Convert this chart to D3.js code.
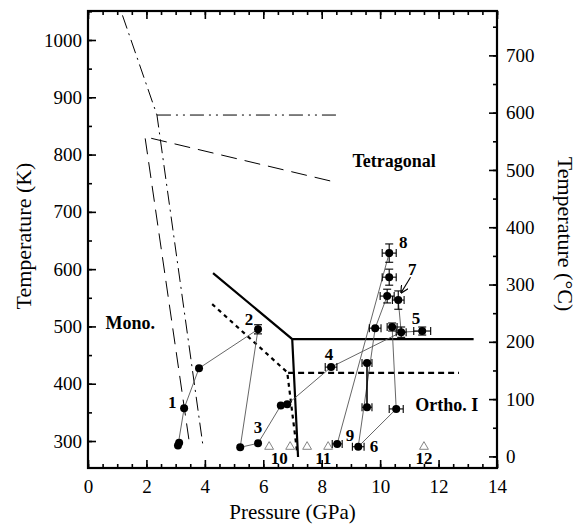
<!DOCTYPE html>
<html>
<head>
<meta charset="utf-8">
<script src="https://cdn.jsdelivr.net/npm/d3@7"></script>
<style>
body{margin:0;background:#fff;}
text{font-family:"Liberation Serif","Times New Roman",serif;}
</style>
</head>
<body>
<svg id="drawarea" width="588" height="524"></svg>
<script>
// measured points (P in GPa, T in K) with error bars
var pressure    = [3.08, 3.12, 3.29, 3.80, 5.82, 5.21, 5.82, 6.60, 6.82, 8.32, 9.55, 9.55, 8.53, 9.25, 10.55, 10.31, 10.31, 10.24, 10.62, 9.83, 10.41, 10.72, 11.44];
var temperature = [292, 297, 357, 427, 495, 289, 296, 362, 364, 429, 436, 359, 295, 290, 356, 628, 586, 553, 546, 497, 499, 490, 492];
var pErr        = [0, 0, 0, 0, 0, 0, 0, 0, 0, 0.2, 0.17, 0.17, 0.17, 0.2, 0.24, 0.24, 0.24, 0.24, 0.2, 0.2, 0.17, 0.17, 0.29];
var tErr        = [0, 0, 0, 0, 8, 0, 0, 0, 0, 0, 0, 0, 0, 0, 0, 16, 14, 12, 16, 0, 7, 9, 7];

// run paths, as indexes into the point arrays
var runPaths = [
    [0, 2, 3, 4, 5, 6, 7, 8, 9, 21, 22],
    [12, 15],
    [13, 19, 17],
    [13, 14],
    [14, 20],
    [21, 18]
];
var heldPath = [10, 11];

// open triangles
var triP = [6.20, 6.92, 7.50, 8.22, 11.50];
var triT = [290, 290, 290, 290, 290];

// run labels
var runLabels = ["1", "2", "3", "4", "5", "6", "7", "8", "9", "10", "11", "12"];
var runLabelP = [2.88, 5.51, 5.82, 8.25, 11.23, 9.79, 11.10, 10.79, 8.97, 6.55, 8.05, 11.50];
var runLabelT = [368, 513, 324, 452, 515, 291, 600, 647, 310, 270, 270, 270];

// phase boundaries
var solidLine1 = [[4.28, 593], [6.99, 478], [7.19, 272]];
var solidLine2 = [[6.99, 478], [13.2, 478]];
var dottedLine1 = [[4.25, 539], [6.82, 420], [7.16, 280]];
var dottedLine2 = [[6.85, 419], [12.7, 419]];
var dashDot1 = [[1.18, 1043], [2.36, 869], [3.94, 290]];
var dashDot2 = [[2.36, 869], [8.49, 869]];
var longDash = [[8.29, 754], [1.95, 831], [3.49, 290]];

// phase names
var phaseNames = ["Mono.", "Tetragonal", "Ortho. I"];
var phaseP = [0.6, 9.05, 11.2];
var phaseT = [507, 790, 363];

var pMajor = d3.range(0, 15, 2);
var pMinor = d3.range(0, 14.01, 0.5);
var kMajor = d3.range(300, 1001, 100);
var kMinor = d3.range(300, 1051, 50);
var cMajor = d3.range(0, 701, 100);
var cMinor = d3.range(0, 751, 50);

var svg = d3.select("#drawarea");
var plotL = 88, plotR = 497, plotT = 11, plotB = 468;

var x = d3.scaleLinear().domain([0, 14]).range([plotL, plotR]);
var y = d3.scaleLinear().domain([252.9, 1050.6]).range([plotB, plotT]);
var yC = d3.scaleLinear().domain([252.9 - 273.15, 1050.6 - 273.15]).range([plotB, plotT]);

var line = d3.line().x(function(d){ return x(d[0]); }).y(function(d){ return y(d[1]); });

// axes
function drawAxis(axis, tx, ty){
    var g = svg.append("g").attr("transform", "translate(" + tx + "," + ty + ")").call(axis);
    g.select(".domain").remove();
    g.selectAll("line").attr("stroke", "#000").attr("stroke-width", 1.6);
    g.selectAll("text").attr("font-size", 19).attr("fill", "#000")
        .style("font-family", "'Liberation Serif','Times New Roman',serif");
    return g;
}
drawAxis(d3.axisBottom(x).tickValues(pMinor).tickSizeInner(-4).tickSizeOuter(0).tickFormat(""), 0, plotB);
drawAxis(d3.axisBottom(x).tickValues(pMajor).tickSizeInner(-8).tickSizeOuter(0).tickPadding(12).tickFormat(d3.format("d")), 0, plotB);
drawAxis(d3.axisTop(x).tickValues(pMinor).tickSizeInner(-4).tickSizeOuter(0).tickFormat(""), 0, plotT);
drawAxis(d3.axisTop(x).tickValues(pMajor).tickSizeInner(-8).tickSizeOuter(0).tickFormat(""), 0, plotT);
drawAxis(d3.axisLeft(y).tickValues(kMinor).tickSizeInner(-4).tickSizeOuter(0).tickFormat(""), plotL, 0);
drawAxis(d3.axisLeft(y).tickValues(kMajor).tickSizeInner(-8).tickSizeOuter(0).tickPadding(6).tickFormat(d3.format("d")), plotL, 0);
drawAxis(d3.axisRight(yC).tickValues(cMinor).tickSizeInner(-4).tickSizeOuter(0).tickFormat(""), plotR, 0);
drawAxis(d3.axisRight(yC).tickValues(cMajor).tickSizeInner(-8).tickSizeOuter(0).tickPadding(9).tickFormat(d3.format("d")), plotR, 0);

svg.append("rect").attr("x", plotL).attr("y", plotT)
    .attr("width", plotR - plotL).attr("height", plotB - plotT)
    .attr("fill", "none").attr("stroke", "#000").attr("stroke-width", 2.2);

// axis titles
svg.append("text").attr("x", (plotL + plotR) / 2).attr("y", 519)
    .attr("text-anchor", "middle").attr("font-size", 21).text("Pressure (GPa)");
svg.append("text").attr("transform", "translate(31,236) rotate(-90)")
    .attr("text-anchor", "middle").attr("font-size", 22).text("Temperature (K)");
svg.append("text").attr("transform", "translate(558,234) rotate(90)")
    .attr("text-anchor", "middle").attr("font-size", 22).text("Temperature (°C)");

// phase boundaries
function boundary(pts, width, dash){
    svg.append("path").datum(pts).attr("d", line)
        .attr("fill", "none").attr("stroke", "#000")
        .attr("stroke-width", width).attr("stroke-dasharray", dash);
}
boundary(solidLine1, 2.2, null);
boundary(solidLine2, 2.2, null);
boundary(dottedLine1, 2.2, "4,4");
boundary(dottedLine2, 2.2, "6,4");
boundary(dashDot1, 1, "14,5,2,5");
boundary(dashDot2, 1, "14,5,2,5,2,5");
boundary(longDash, 1, "16,8");

// run paths
runPaths.forEach(function(p){
    svg.append("path").datum(p.map(function(i){ return [pressure[i], temperature[i]]; }))
        .attr("d", line).attr("fill", "none")
        .attr("stroke", "#555").attr("stroke-width", 0.9);
});
svg.append("path").datum(heldPath.map(function(i){ return [pressure[i], temperature[i]]; }))
    .attr("d", line).attr("fill", "none").attr("stroke", "#000").attr("stroke-width", 1.6);

// error bars
var idx = d3.range(pressure.length);
var eb = svg.append("g").attr("stroke", "#000").attr("stroke-width", 1.1);
idx.filter(function(i){ return pErr[i] > 0; }).forEach(function(i){
    var x0 = x(pressure[i] - pErr[i]), x1 = x(pressure[i] + pErr[i]), yy = y(temperature[i]);
    eb.append("line").attr("x1", x0).attr("x2", x1).attr("y1", yy).attr("y2", yy);
    eb.append("line").attr("x1", x0).attr("x2", x0).attr("y1", yy - 4).attr("y2", yy + 4);
    eb.append("line").attr("x1", x1).attr("x2", x1).attr("y1", yy - 4).attr("y2", yy + 4);
});
idx.filter(function(i){ return tErr[i] > 0; }).forEach(function(i){
    var y0 = y(temperature[i] - tErr[i]), y1 = y(temperature[i] + tErr[i]), xx = x(pressure[i]);
    eb.append("line").attr("x1", xx).attr("x2", xx).attr("y1", y0).attr("y2", y1);
    eb.append("line").attr("x1", xx - 4).attr("x2", xx + 4).attr("y1", y0).attr("y2", y0);
    eb.append("line").attr("x1", xx - 4).attr("x2", xx + 4).attr("y1", y1).attr("y2", y1);
});

// points
svg.selectAll("circle.pt").data(idx).enter().append("circle")
    .attr("class", "pt")
    .attr("cx", function(i){ return x(pressure[i]); })
    .attr("cy", function(i){ return y(temperature[i]); })
    .attr("r", 4).attr("fill", "#000");

// triangles
var tri = d3.symbol().type(d3.symbolTriangle).size(34);
svg.selectAll("path.tri").data(triP).enter().append("path")
    .attr("class", "tri").attr("d", tri)
    .attr("transform", function(d, i){ return "translate(" + x(d) + "," + y(triT[i]) + ")"; })
    .attr("fill", "none").attr("stroke", "#777").attr("stroke-width", 0.9);

// run labels
svg.selectAll("text.run").data(runLabels).enter().append("text")
    .attr("class", "run")
    .attr("x", function(d, i){ return x(runLabelP[i]); })
    .attr("y", function(d, i){ return y(runLabelT[i]); })
    .attr("dy", "0.35em").attr("text-anchor", "middle")
    .attr("font-size", 17).attr("font-weight", "bold").text(function(d){ return d; });

// arrow for run 7
svg.append("defs").append("marker").attr("id", "arr")
    .attr("viewBox", "0 0 10 10").attr("refX", 9).attr("refY", 5)
    .attr("markerWidth", 7).attr("markerHeight", 7).attr("orient", "auto")
    .append("path").attr("d", "M0,0 L10,5 L0,10").attr("fill", "none").attr("stroke", "#000").attr("stroke-width", 1.5);
svg.append("line")
    .attr("x1", x(11.04)).attr("y1", y(586)).attr("x2", x(10.72)).attr("y2", y(559))
    .attr("stroke", "#000").attr("stroke-width", 1.1).attr("marker-end", "url(#arr)");

// phase names
svg.selectAll("text.phase").data(phaseNames).enter().append("text")
    .attr("class", "phase")
    .attr("x", function(d, i){ return x(phaseP[i]); })
    .attr("y", function(d, i){ return y(phaseT[i]); })
    .attr("dy", "0.35em")
    .attr("font-size", 18).attr("font-weight", "bold").text(function(d){ return d; });
</script>
</body>
</html>
